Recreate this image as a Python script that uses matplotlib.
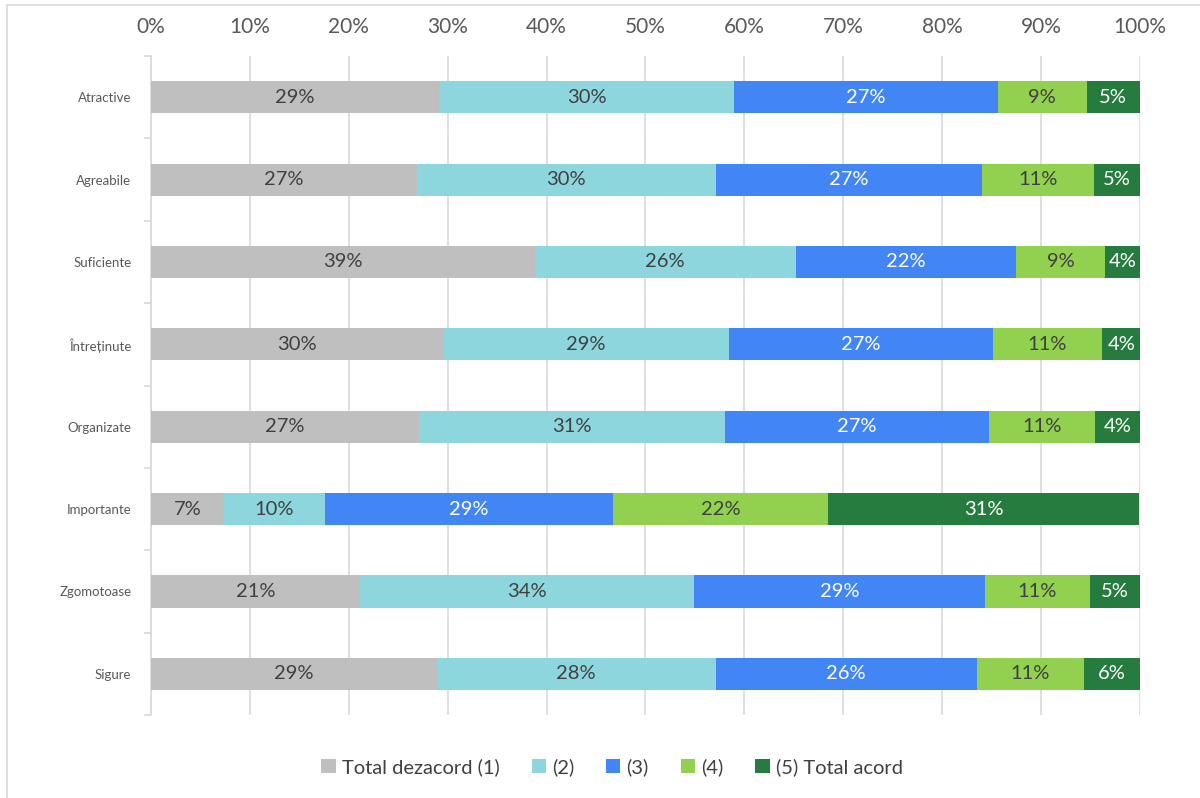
import matplotlib.pyplot as plt
from matplotlib.patches import Rectangle

plt.rcParams['font.family'] = ['Lato', 'DejaVu Sans']

categories = ['Atractive', 'Agreabile', 'Suficiente', 'Întreținute',
              'Organizate', 'Importante', 'Zgomotoase', 'Sigure']
series_names = ['Total dezacord (1)', '(2)', '(3)', '(4)', '(5) Total acord']

# percent per category
s1 = [29.1, 26.9, 38.8, 29.6, 27.1, 7.4, 21.1, 28.9]
s2 = [29.9, 30.2, 26.4, 28.8, 30.9, 10.2, 33.8, 28.2]
s3 = [26.6, 26.9, 22.3, 26.7, 26.7, 29.1, 29.4, 26.4]
s4 = [9.0, 11.3, 9.0, 11.1, 10.8, 21.8, 10.6, 10.8]
s5 = [5.4, 4.7, 3.6, 3.8, 4.5, 31.4, 5.1, 5.7]

colors = ['#BFBFBF', '#8ED6DD', '#4285F4', '#92D050', '#267C3E']
text_colors = ['#404040', '#404040', 'white', '#404040', 'white']

fig = plt.figure(figsize=(12, 7.98), dpi=100)
ax = fig.add_axes([0.1258, 0.104, 0.8242, 0.8258])

# light frame around the chart area (right and bottom edges fall off the image)
fig.patches.append(Rectangle((7 / 1200, -0.05), 1.2, 1.05 - 5 / 798, transform=fig.transFigure,
                             fill=False, edgecolor='#D9D9D9', linewidth=1.2))

y = list(range(len(categories)))
left = [0.0] * len(categories)
for vals, name, c, tc in zip([s1, s2, s3, s4, s5], series_names, colors, text_colors):
    ax.barh(y, vals, left=left, height=0.39, color=c, label=name, zorder=3)
    for yi, v, l in zip(y, vals, left):
        ax.text(l + v / 2, yi, f'{v:.0f}%', ha='center', va='center',
                color=tc, fontsize=14.5, zorder=4)
    left = [a + b for a, b in zip(left, vals)]

ax.set_xlim(0, 100)
ax.set_ylim(len(categories) - 0.5, -0.5)
ax.set_xticks(range(0, 101, 10))
ax.set_xticklabels([f'{t}%' for t in range(0, 101, 10)])
ax.xaxis.tick_top()
ax.tick_params(axis='x', length=0, labelsize=15, labelcolor='#595959', pad=14)
ax.set_yticks(y)
ax.set_yticklabels(categories)
ax.set_yticks([i - 0.5 for i in range(len(categories) + 1)], minor=True)
ax.tick_params(axis='y', which='major', length=0, labelsize=9.5, labelcolor='#595959', pad=14)
ax.tick_params(axis='y', which='minor', length=5, color='#D9D9D9', width=1.2)
ax.grid(axis='x', color='#D9D9D9', linewidth=1.2, zorder=0)
for s in ['top', 'right', 'bottom']:
    ax.spines[s].set_visible(False)
ax.spines['left'].set_color('#D9D9D9')
ax.spines['left'].set_linewidth(1.2)

fig.legend(loc='center', bbox_to_anchor=(0.51, 0.039), ncol=5, frameon=False,
           fontsize=14.5, handlelength=0.7, handleheight=0.7, handletextpad=0.3,
           columnspacing=1.6, labelcolor='#404040')

fig.savefig('out.png', dpi=100)
